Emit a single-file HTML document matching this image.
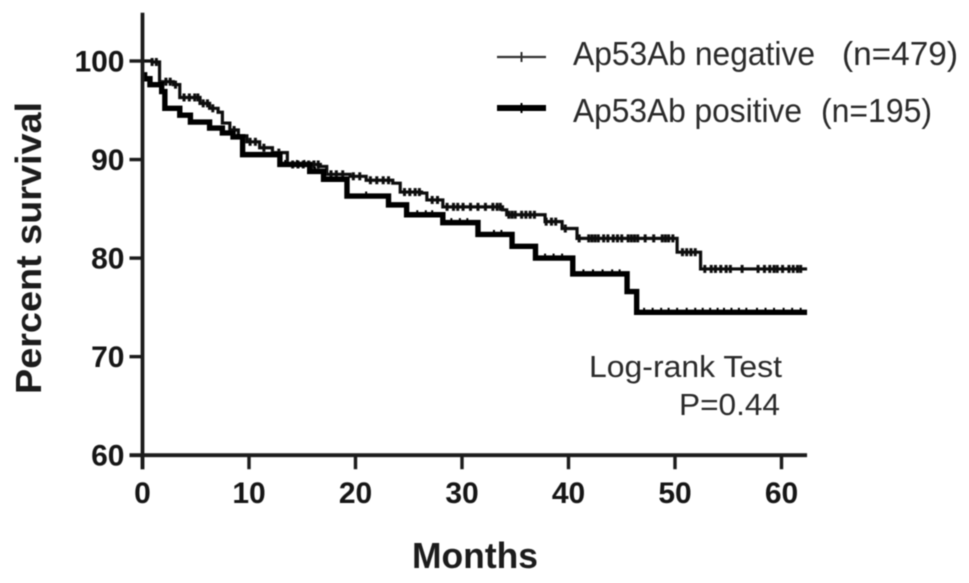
<!DOCTYPE html>
<html>
<head>
<meta charset="utf-8">
<title>Kaplan-Meier survival chart</title>
<style>
html,body{margin:0;padding:0;background:#fff;width:969px;height:583px;overflow:hidden}
svg{display:block}
text{font-family:"Liberation Sans",Arial,sans-serif;fill:#1c1c1c}
.tick{font-weight:bold;font-size:30px;fill:#151515}
.title{font-weight:bold;fill:#1a1a1a}
.note{font-size:31px;fill:#2a2a2a}
.legend{font-size:33px;fill:#2a2a2a}
</style>
</head>
<body>
<svg id="chart" width="969" height="583" viewBox="0 0 969 583" xmlns="http://www.w3.org/2000/svg">
<defs><filter id="soft" filterUnits="userSpaceOnUse" x="0" y="0" width="969" height="583"><feGaussianBlur stdDeviation="0.6"/></filter></defs>
<g id="marks" filter="url(#soft)"></g>
<g id="axes" filter="url(#soft)"></g>
<g id="labels" filter="url(#soft)"></g>
<g filter="url(#soft)">
<text class="title" font-size="36" text-anchor="middle" transform="translate(41,248) rotate(-90)" textLength="292" lengthAdjust="spacingAndGlyphs">Percent survival</text>
<text class="title" font-size="36" x="475" y="568" text-anchor="middle" textLength="126" lengthAdjust="spacingAndGlyphs">Months</text>
</g>
<g filter="url(#soft)">
<g>
<line x1="497" x2="546" y1="57" y2="57" stroke="#333" stroke-width="2.2"/>
<line x1="521.5" x2="521.5" y1="52" y2="62" stroke="#333" stroke-width="2"/>
<text class="legend" x="573" y="65" textLength="242" lengthAdjust="spacingAndGlyphs">Ap53Ab negative</text>
<text class="legend" x="842" y="65" textLength="116" lengthAdjust="spacingAndGlyphs">(n=479)</text>
</g>
<g>
<line x1="497" x2="546" y1="108" y2="108" stroke="#000" stroke-width="6"/>
<line x1="521.5" x2="521.5" y1="103" y2="113" stroke="#000" stroke-width="2"/>
<text class="legend" x="573" y="122" textLength="229" lengthAdjust="spacingAndGlyphs">Ap53Ab positive</text>
<text class="legend" x="821" y="122" textLength="111" lengthAdjust="spacingAndGlyphs">(n=195)</text>
</g>
</g>
<g filter="url(#soft)">
<text class="note" x="782" y="377" text-anchor="end" textLength="193" lengthAdjust="spacingAndGlyphs">Log-rank Test</text>
<text class="note" x="780" y="415" text-anchor="end" textLength="101" lengthAdjust="spacingAndGlyphs">P=0.44</text>
</g>
</svg>
<script>
const xTickLabels = [0, 10, 20, 30, 40, 50, 60];
const yTickLabels = [60, 70, 80, 90, 100];

const negativeMonths = [0, 0.9, 1.6, 2.9, 3.5, 5.4, 6.3, 7.1, 7.5, 8.2, 9.0, 9.8, 11.0, 12.2, 13.6, 16.7, 17.3, 19.5, 21.0, 23.5, 24.2, 26.2, 26.7, 28.2, 33.8, 34.2, 37.3, 37.8, 39.0, 39.4, 40.3, 40.8, 50.2, 52.4];
const negativeSurvival = [100, 99.9, 97.9, 97.6, 96.3, 95.7, 95.2, 94.8, 93.7, 93.0, 92.4, 91.8, 91.2, 90.7, 89.5, 89.3, 88.5, 88.3, 87.9, 87.6, 86.7, 86.6, 85.9, 85.2, 84.9, 84.4, 84.4, 83.7, 83.7, 83.0, 83.0, 82.0, 80.6, 78.9];
const negativeCensored = [0.9, 1.3, 2.2, 2.6, 3.1, 3.9, 4.4, 4.9, 5.2, 5.7, 6.1, 6.6, 8.6, 10.1, 10.6, 11.4, 12.8, 14.1, 14.6, 15.1, 15.6, 16.1, 16.5, 17.7, 18.2, 18.8, 19.8, 20.4, 21.4, 22.0, 22.6, 23.1, 24.6, 25.1, 25.6, 26.0, 27.2, 27.7, 28.6, 29.2, 29.6, 30.1, 30.8, 31.5, 32.2, 32.9, 33.3, 33.6, 34.4, 34.7, 35.0, 35.6, 36.0, 36.4, 36.8, 37.9, 38.4, 38.8, 39.7, 41.0, 41.9, 42.2, 42.5, 42.8, 43.3, 43.7, 44.2, 44.6, 45.0, 45.6, 45.9, 46.2, 46.5, 47.2, 48.0, 48.8, 49.1, 49.4, 49.8, 50.7, 51.1, 51.5, 51.9, 52.8, 53.4, 53.8, 54.3, 54.8, 55.2, 56.3, 57.8, 58.4, 58.9, 59.3, 59.6, 60.1, 60.7, 61.1, 61.5, 61.8];
const positiveMonths = [0, 0.2, 0.7, 1.8, 2.1, 3.5, 4.5, 6.3, 7.5, 8.5, 9.4, 12.9, 15.7, 17.0, 19.2, 23.1, 24.8, 28.2, 31.5, 34.7, 36.9, 40.4, 45.5, 46.4];
const positiveSurvival = [98.6, 98.2, 97.6, 96.9, 95.2, 94.5, 93.8, 93.2, 92.7, 92.3, 90.5, 89.5, 88.8, 88.0, 86.3, 85.4, 84.4, 83.6, 82.4, 81.2, 80.0, 78.4, 76.6, 74.5];
const positiveCensored = [13.4, 14.5, 15.2, 16.2, 21.0, 25.8, 26.6, 27.2, 29.0, 29.8, 30.5, 33.0, 33.7, 37.8, 38.6, 39.4, 41.4, 42.3, 43.2, 44.1, 44.8, 47.1, 47.9, 48.7, 49.4, 50.2, 51.1, 51.9, 52.6, 53.3, 54.0, 54.6, 55.3, 56.0, 56.7, 57.7, 58.5, 59.3, 60.2, 61.0, 61.8];

const X_ZERO = 142.5, X_PER_MONTH = 10.65, X_END = 62.4;
const Y_AT_100 = 61, Y_PER_UNIT = 9.855, Y_TOP = 104.9;
const NS = 'http://www.w3.org/2000/svg';

function xScale(month) { return X_ZERO + month * X_PER_MONTH; }
function yScale(pct) { return Y_AT_100 + (100 - pct) * Y_PER_UNIT; }

function make(parent, tag, attrs) {
  const el = document.createElementNS(NS, tag);
  for (const key in attrs) el.setAttribute(key, attrs[key]);
  parent.appendChild(el);
  return el;
}

function stepPath(months, values) {
  let d = 'M' + xScale(months[0]) + ' ' + yScale(values[0]);
  for (let i = 1; i < months.length; i++) {
    d += 'H' + xScale(months[i]) + 'V' + yScale(values[i]);
  }
  return d + 'H' + xScale(X_END);
}

function valueAt(months, values, month) {
  let v = values[0];
  for (let i = 0; i < months.length; i++) {
    if (months[i] <= month) v = values[i];
  }
  return v;
}

const marks = document.getElementById('marks');
const axes = document.getElementById('axes');
const labels = document.getElementById('labels');

const negLine = make(marks, 'path', { d: stepPath(negativeMonths, negativeSurvival), fill: 'none', stroke: '#111', 'stroke-width': 3.2 });



negativeCensored.forEach(function (m) {
  const y = yScale(valueAt(negativeMonths, negativeSurvival, m));
  const t = make(marks, 'line', { x1: xScale(m), x2: xScale(m), y1: y - 4, y2: y + 4, stroke: '#111', 'stroke-width': 3 });
  
  
});

const posLine = make(marks, 'path', { d: stepPath(positiveMonths, positiveSurvival), fill: 'none', stroke: '#000', 'stroke-width': 5.4 });



positiveCensored.forEach(function (m) {
  const y = yScale(valueAt(positiveMonths, positiveSurvival, m));
  const t = make(marks, 'line', { x1: xScale(m), x2: xScale(m), y1: y - 4.5, y2: y + 2, stroke: '#000', 'stroke-width': 2 });
  
  
});

const yAxis = make(axes, 'line', { x1: X_ZERO, x2: X_ZERO, y1: yScale(Y_TOP), y2: yScale(60) + 14, stroke: '#1a1a1a', 'stroke-width': 3.8 });



const xAxis = make(axes, 'line', { x1: X_ZERO - 13, x2: xScale(X_END), y1: yScale(60), y2: yScale(60), stroke: '#1a1a1a', 'stroke-width': 3.8 });



xTickLabels.forEach(function (v) {
  const x = xScale(v);
  const t = make(axes, 'line', { x1: x, x2: x, y1: yScale(60), y2: yScale(60) + 14, stroke: '#1a1a1a', 'stroke-width': 3.4 });
  
  
  const l = make(labels, 'text', { class: 'tick', x: x, y: 503, 'text-anchor': 'middle' });
  
  
  l.textContent = v;
});

yTickLabels.forEach(function (v) {
  const y = yScale(v);
  const t = make(axes, 'line', { x1: X_ZERO - 13, x2: X_ZERO, y1: y, y2: y, stroke: '#1a1a1a', 'stroke-width': 3.4 });
  
  
  const l = make(labels, 'text', { class: 'tick', x: 124.5, y: y + 10.5, 'text-anchor': 'end' });
  
  
  l.textContent = v;
});
</script>
</body>
</html>
